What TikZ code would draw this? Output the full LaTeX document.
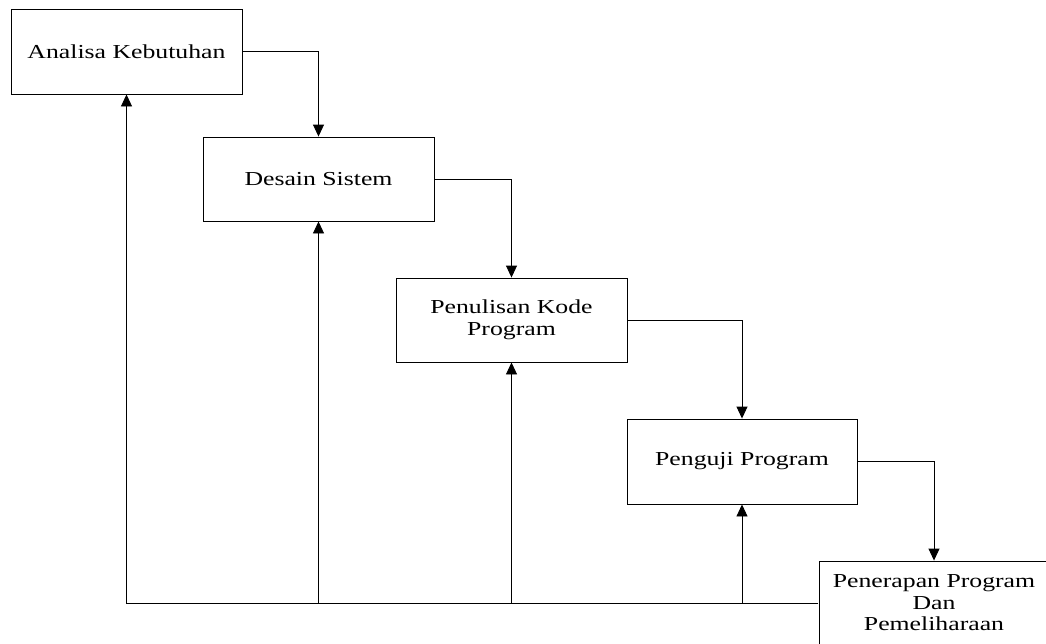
\documentclass[tikz,border=0pt]{standalone}
\usepackage{fontspec}
\setmainfont{Liberation Serif}
\usetikzlibrary{arrows.meta}
\begin{document}
\begin{tikzpicture}[x=1pt,y=-1pt,
  stagebox/.style={draw, line width=0.9pt, align=center, inner sep=0pt,
    xscale=1.3, transform shape,
    font=\fontsize{19.8}{21.5}\selectfont},
  flow/.style={line width=0.9pt, -{Triangle[length=12pt,width=11pt]}}]
\useasboundingbox (0,0) rectangle (1046,643);
\clip (0,0) rectangle (1046,643);
% waterfall stages
\node[stagebox, minimum width=231pt/1.3, minimum height=85pt] (b1) at (126.5,51.5) {Analisa Kebutuhan};
\node[stagebox, minimum width=231pt/1.3, minimum height=84pt] (b2) at (318.5,179) {Desain Sistem};
\node[stagebox, minimum width=231pt/1.3, minimum height=84pt] (b3) at (511.5,320) {Penulisan Kode\\Program};
\node[stagebox, minimum width=230pt/1.3, minimum height=85pt] (b4) at (742,461.5) {Penguji Program};
\node[stagebox, minimum width=230pt/1.3, minimum height=84pt] (b5) at (934,603) {Penerapan Program\\Dan\\Pemeliharaan};
% forward flow
\draw[flow] (b1.east) -| (b2.north);
\draw[flow] (b2.east) -| (b3.north);
\draw[flow] (b3.east) -| (b4.north);
\draw[flow] (b4.east) -| (b5.north);
% feedback lines
\draw[flow] (b5.west) -| (b1.south);
\draw[flow] (b2.south |- b5.west) -- (b2.south);
\draw[flow] (b3.south |- b5.west) -- (b3.south);
\draw[flow] (b4.south |- b5.west) -- (b4.south);
\end{tikzpicture}
\end{document}
